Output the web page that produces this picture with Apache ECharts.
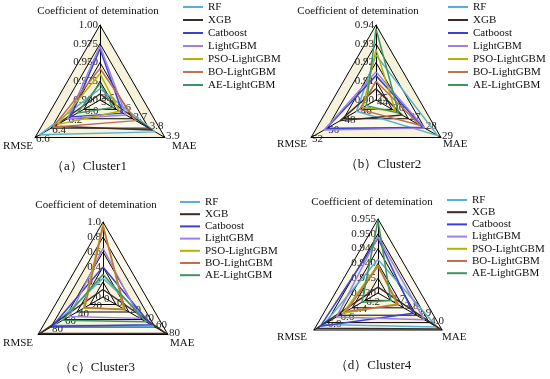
<!DOCTYPE html>
<html><head><meta charset="utf-8">
<script src="https://cdn.jsdelivr.net/npm/echarts@6/dist/echarts.min.js"></script>
<style>html,body{margin:0;padding:0;background:#fff}#c{width:550px;height:379px}</style>
</head><body><div id="c"></div>
<script>
// ---------- data ----------
const models = ['RF', 'XGB', 'Catboost', 'LightGBM', 'PSO-LightGBM', 'BO-LightGBM', 'AE-LightGBM'];
const indicatorNames = ['Coefficient of detemination', 'RMSE', 'MAE'];
const captions = ['（a）Cluster1', '（b）Cluster2', '（c）Cluster3', '（d）Cluster4'];

// Cluster 1
const c1R2   = [0.915, 0.908, 0.968, 0.972, 0.935, 0.942, 0.922];
const c1RMSE = [6.54, 6.36, 6.16, 6.20, 6.32, 6.38, 6.08];
const c1MAE  = [3.84, 3.82, 3.64, 3.66, 3.62, 3.72, 3.58];
const c1R2Ticks   = ['0.900', '0.925', '0.950', '0.975', '1.00'];
const c1RMSETicks = ['5.8', '6.0', '6.2', '6.4', '6.6'];
const c1MAETicks  = ['3.5', '3.6', '3.7', '3.8', '3.9'];
const c1Ranges = [[0.9, 1.0], [5.8, 6.6], [3.5, 3.9]];

// Cluster 2
const c2R2   = [0.924, 0.906, 0.913, 0.915, 0.927, 0.910, 0.938];
const c2RMSE = [46.4, 48.4, 50.2, 50.4, 45.6, 46.0, 45.2];
const c2MAE  = [28.8, 26.6, 27.9, 28.0, 26.2, 27.7, 26.4];
const c2R2Ticks   = ['0.90', '0.91', '0.92', '0.93', '0.94'];
const c2RMSETicks = ['44', '46', '48', '50', '52'];
const c2MAETicks  = ['25', '26', '27', '28', '29'];
const c2Ranges = [[0.90, 0.94], [44, 52], [25, 29]];

// Cluster 3
const c3R2   = [0.25, 0.10, 0.40, 0.65, 0.97, 0.94, 0.30];
const c3RMSE = [75, 97, 78, 52, 30, 28, 62];
const c3MAE  = [58, 77, 54, 37, 12, 14, 46];
const c3R2Ticks   = ['0', '0.2', '0.4', '0.6', '0.8', '1.0'];
const c3RMSETicks = ['0', '20', '40', '60', '80', '100'];
const c3MAETicks  = ['', '0', '20', '40', '60', '80'];
const c3Ranges = [[0, 1], [0, 100], [-20, 80]];

// Cluster 4
const c4R2   = [0.9413, 0.932, 0.9485, 0.949, 0.9395, 0.939, 0.9545];
const c4RMSE = [6.85, 6.95, 6.90, 6.65, 6.55, 6.50, 6.25];
const c4MAE  = [4.06, 4.085, 3.875, 3.96, 3.75, 3.76, 3.70];
const c4R2Ticks   = ['0.930', '0.935', '0.940', '0.945', '0.950', '0.955'];
const c4RMSETicks = ['6.0', '6.2', '6.4', '6.6', '6.8', '7.0'];
const c4MAETicks  = ['3.6', '3.7', '3.8', '3.9', '4.0', '4.1'];
const c4Ranges = [[0.930, 0.955], [6.0, 7.0], [3.6, 4.1]];

// ---------- style / layout ----------
const colors = ['#58b0d4', '#3d2b26', '#3a40d0', '#9b80e6', '#b3b300', '#c0704f', '#3f9461'];
const SERIF = '"Liberation Serif", "Times New Roman", "DejaVu Serif", serif';

const panels = [
  { vals: [c1R2, c1RMSE, c1MAE], ticks: [c1R2Ticks, c1RMSETicks, c1MAETicks], ranges: c1Ranges,
    cx: 100, cy: 100, r: 75, legend: [183, 1.5, 2], cap: [89, 167],
    names: [[98, 11, 'center'], [33, 146, 'right'], [172, 146, 'left']] },
  { vals: [c2R2, c2RMSE, c2MAE], ticks: [c2R2Ticks, c2RMSETicks, c2MAETicks], ranges: c2Ranges,
    cx: 376, cy: 100, r: 75, legend: [448, 1.5, 2], cap: [383, 165],
    names: [[358, 11, 'center'], [307, 144, 'right'], [443, 144, 'left']] },
  { vals: [c3R2, c3RMSE, c3MAE], ticks: [c3R2Ticks, c3RMSETicks, c3MAETicks], ranges: c3Ranges,
    cx: 103, cy: 297, r: 75, legend: [180, 196.5, 1.2], cap: [97, 368],
    names: [[96, 205, 'center'], [33, 343, 'right'], [170, 343, 'left']] },
  { vals: [c4R2, c4RMSE, c4MAE], ticks: [c4R2Ticks, c4RMSETicks, c4MAETicks], ranges: c4Ranges,
    cx: 378, cy: 293, r: 74, legend: [447, 194.5, 1.2], cap: [373, 366],
    names: [[372, 202, 'center'], [307, 337, 'right'], [442, 337, 'left']] }
];

const chart = echarts.init(document.getElementById('c'), null, { renderer: 'canvas' });

const graphics = [];
panels.forEach((p, i) => {
  p.names.forEach((nm, k) => {
    graphics.push({
      type: 'text', x: nm[0], y: nm[1],
      style: { text: indicatorNames[k], align: nm[2], verticalAlign: 'middle',
               font: '11px ' + SERIF, fill: '#111' }
    });
  });
  graphics.push({
    type: 'text', x: p.cap[0], y: p.cap[1],
    style: { text: captions[i], align: 'center', verticalAlign: 'middle',
             font: '13px ' + SERIF, fill: '#111' }
  });
});

const option = {
  animation: false,
  backgroundColor: '#ffffff',
  textStyle: { fontFamily: SERIF },
  radar: panels.map(p => {
    const split = p.ticks[0].length - 1;
    return {
      center: [p.cx, p.cy],
      radius: p.r,
      shape: 'polygon',
      startAngle: 90,
      splitNumber: split,
      axisName: { show: false },
      axisLine: { lineStyle: { color: '#000', width: 1 } },
      splitLine: { lineStyle: { color: '#000', width: 1 } },
      splitArea: { show: true, areaStyle: { color: ['#fcfaef', '#f7f2dc'] } },
      axisLabel: { show: true, color: '#222', fontFamily: SERIF, fontSize: 11, margin: 2 },
      indicator: indicatorNames.map((n, k) => {
        const [mn, mx] = p.ranges[k];
        const step = (mx - mn) / split;
        const tk = p.ticks[k];
        return {
          name: n, min: mn, max: mx,
          axisLabel: {
            show: true, color: '#222', fontFamily: SERIF, fontSize: 11, margin: 2,
            formatter: v => { const i = Math.round((v - mn) / step); return tk[i] != null ? tk[i] : ''; }
          }
        };
      })
    };
  }),
  legend: panels.map(p => ({
    data: models,
    orient: 'vertical',
    left: p.legend[0], top: p.legend[1],
    padding: 0,
    icon: 'rect', itemWidth: 20, itemHeight: 2, itemGap: p.legend[2],
    textStyle: { fontFamily: SERIF, fontSize: 11, color: '#111' },
    selectedMode: false
  })),
  series: panels.map((p, i) => ({
    type: 'radar',
    radarIndex: i,
    symbol: 'none',
    data: models.map((m, k) => ({
      name: m,
      value: [p.vals[0][k], p.vals[1][k], p.vals[2][k]],
      lineStyle: { color: colors[k], width: 1.5 },
      itemStyle: { color: colors[k] }
    }))
  })),
  graphic: graphics
};
chart.setOption(option);
</script>
</body></html>
